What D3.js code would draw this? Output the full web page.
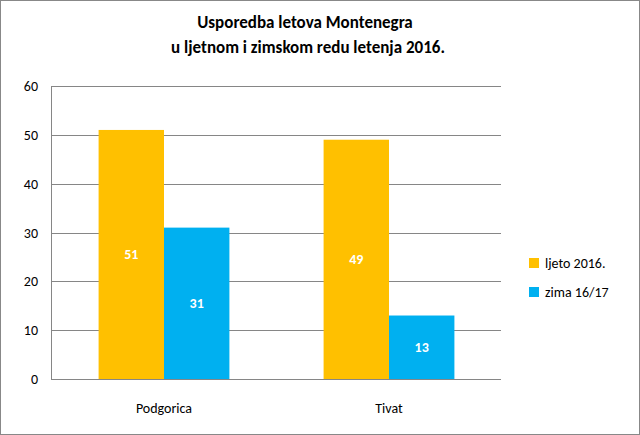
<!DOCTYPE html>
<html><head><meta charset="utf-8">
<script src="https://cdn.jsdelivr.net/npm/d3@7"></script>
<style>body{margin:0;background:#fff;font-family:Calibri,Carlito,"Liberation Sans",Arial,sans-serif}</style>
</head><body>
<svg width="640" height="435"></svg>
<script>
const categories = ["Podgorica", "Tivat"];
const seriesNames = ["ljeto 2016.", "zima 16/17"];
const summer = [51, 49];
const winter = [31, 13];
const colors = ["#FFC000", "#00B0F0"];
const yTicks = [0, 10, 20, 30, 40, 50, 60];

const svg = d3.select("svg");
svg.append("rect").attr("x", 0.5).attr("y", 0.5).attr("width", 639).attr("height", 434)
  .attr("fill", "#fff").attr("stroke", "#888");

const title = svg.append("text").attr("text-anchor", "middle")
  .attr("font-weight", "bold").attr("font-size", 17).attr("fill", "#000");
title.append("tspan").attr("x", 305).attr("y", 28).text("Usporedba letova Montenegra");
title.append("tspan").attr("x", 308).attr("y", 53).text("u ljetnom i zimskom redu letenja 2016.");

const x = d3.scaleBand().domain(categories).range([51.5, 501.5]);
const y = d3.scaleLinear().domain([0, 60]).range([379, 86]);

svg.append("g").selectAll("line").data(yTicks).join("line")
  .attr("x1", 51).attr("x2", 501).attr("y1", d => Math.round(y(d)) + 0.5).attr("y2", d => Math.round(y(d)) + 0.5)
  .attr("stroke", "#868686");
svg.append("line").attr("x1", 51.5).attr("x2", 51.5).attr("y1", 86).attr("y2", 379).attr("stroke", "#868686");

svg.append("g").selectAll("text").data(yTicks).join("text")
  .attr("x", 38).attr("y", d => y(d) + 5).attr("text-anchor", "end")
  .attr("font-size", 14).attr("fill", "#000").text(d => d);

const x1 = d3.scaleBand().domain([0, 1]).range([0, x.bandwidth()]).paddingOuter(0.72).paddingInner(0);
const data = [];
categories.forEach((c, i) => {
  data.push({c, s: 0, v: summer[i]});
  data.push({c, s: 1, v: winter[i]});
});
const g = svg.append("g");
g.selectAll("rect").data(data).join("rect")
  .attr("x", d => x(d.c) + x1(d.s)).attr("width", x1.bandwidth())
  .attr("y", d => y(d.v)).attr("height", d => y(0) - y(d.v))
  .attr("fill", d => colors[d.s]);
g.selectAll("text").data(data).join("text")
  .attr("x", d => x(d.c) + x1(d.s) + x1.bandwidth() / 2)
  .attr("y", d => (y(d.v) + y(0)) / 2 + 5).attr("text-anchor", "middle")
  .attr("font-weight", "bold").attr("font-size", 14).attr("fill", "#fff").text(d => d.v);

svg.append("line").attr("x1", 51).attr("x2", 501).attr("y1", 379.5).attr("y2", 379.5).attr("stroke", "#868686");
svg.append("g").selectAll("text").data(categories).join("text")
  .attr("x", d => x(d) + x.bandwidth() / 2).attr("y", 413).attr("text-anchor", "middle")
  .attr("font-size", 14).attr("fill", "#000").text(d => d);

const lg = svg.append("g").selectAll("g").data(seriesNames).join("g")
  .attr("transform", (d, i) => `translate(529,${258 + i * 29})`);
lg.append("rect").attr("width", 10).attr("height", 10).attr("fill", (d, i) => colors[i]);
lg.append("text").attr("x", 16).attr("y", 10).attr("font-size", 14).attr("fill", "#000").text(d => d);
</script>
</body></html>
